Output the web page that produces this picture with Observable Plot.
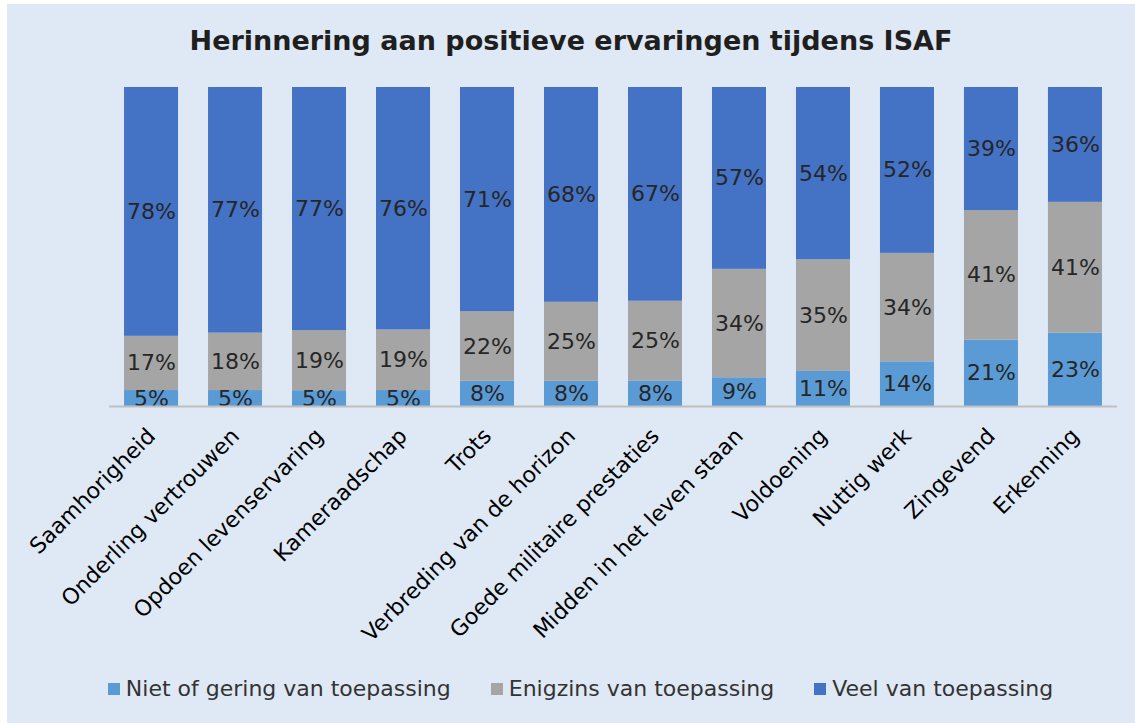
<!DOCTYPE html>
<html>
<head>
<meta charset="utf-8">
<script src="https://cdn.jsdelivr.net/npm/d3@7"></script>
<script src="https://cdn.jsdelivr.net/npm/@observablehq/plot@0.6"></script>
<style>
  html, body { margin: 0; padding: 0; background: #ffffff; }
  body { width: 1135px; height: 723px; position: relative; overflow: hidden; font-family: "DejaVu Sans", Verdana, sans-serif; }
  #panel { position: absolute; left: 7px; top: 4px; width: 1128px; height: 719px; background: #dee9f5; }
  #title { position: absolute; left: 7px; top: 24px; width: 1128px; text-align: center; font-size: 27px; font-weight: bold; color: #1f1f1f; line-height: 34px; }
  #chart { position: absolute; left: 0; top: 60px; }
  #legend { position: absolute; left: 26px; top: 674px; width: 1109px; display: flex; justify-content: center; align-items: center; gap: 40px; font-size: 22px; color: #333333; line-height: 30px; }
  .item { display: flex; align-items: center; gap: 6px; }
  .sw { width: 12px; height: 12px; display: inline-block; }
</style>
</head>
<body>
<div id="panel"></div>
<div id="title">Herinnering aan positieve ervaringen tijdens ISAF</div>
<div id="chart"></div>
<div id="legend"></div>
<script>
const categories = ["Saamhorigheid", "Onderling vertrouwen", "Opdoen levenservaring", "Kameraadschap", "Trots", "Verbreding van de horizon", "Goede militaire prestaties", "Midden in het leven staan", "Voldoening", "Nuttig werk", "Zingevend", "Erkenning"];
const series = ["Niet of gering van toepassing", "Enigzins van toepassing", "Veel van toepassing"];
const colors = ["#5b9bd5", "#a5a5a5", "#4472c4"];
const nietValues = [5, 5, 5, 5, 8, 8, 8, 9, 11, 14, 21, 23];
const enigzinsValues = [17, 18, 19, 19, 22, 25, 25, 34, 35, 34, 41, 41];
const veelValues = [78, 77, 77, 76, 71, 68, 67, 57, 54, 52, 39, 36];

const valueSets = [nietValues, enigzinsValues, veelValues];
const data = [];
series.forEach((s, si) => {
  categories.forEach((c, ci) => {
    data.push({cat: c, series: s, value: valueSets[si][ci]});
  });
});

const chart = Plot.plot({
  width: 1135,
  height: 605,
  marginLeft: 109,
  marginRight: 18,
  marginTop: 27,
  marginBottom: 259,
  style: {background: "transparent", fontFamily: "'DejaVu Sans', Verdana, sans-serif", fontSize: "22px"},
  x: {domain: categories, paddingInner: 0.357, paddingOuter: 0.179, round: false, label: null},
  y: {axis: null, domain: [0, 1]},
  color: {domain: series, range: colors},
  marks: [
    Plot.barY(data, {x: "cat", y: "value", z: "series", fill: "series", order: series, offset: "normalize"}),
    Plot.text(data, Plot.stackY({x: "cat", y: "value", z: "series", order: series, offset: "normalize", text: d => d.value + "%", fill: "#262626", fontSize: 22})),
    Plot.ruleY([0], {stroke: "#bfbfbf", strokeWidth: 2}),
    Plot.axisX({tickRotate: -45, tickSize: 0, tickPadding: 26, fontSize: 22, fill: "#000000", label: null})
  ]
});
document.getElementById("chart").appendChild(chart);

const legend = document.getElementById("legend");
series.forEach((s, i) => {
  const item = document.createElement("div");
  item.className = "item";
  const sw = document.createElement("span");
  sw.className = "sw";
  sw.style.background = colors[i];
  const t = document.createElement("span");
  t.textContent = s;
  item.appendChild(sw);
  item.appendChild(t);
  legend.appendChild(item);
});
</script>
</body>
</html>
